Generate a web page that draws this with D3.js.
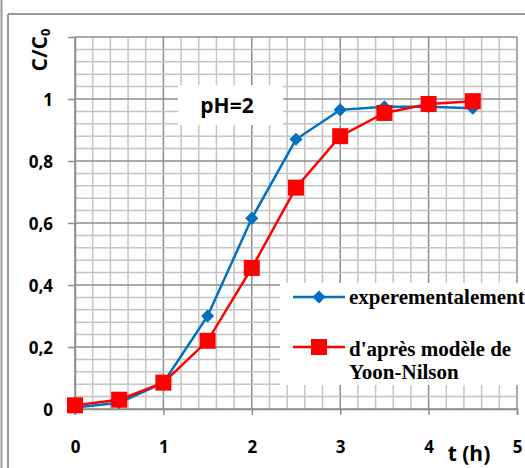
<!DOCTYPE html>
<html>
<head>
<meta charset="utf-8">
<script src="https://cdn.jsdelivr.net/npm/d3@7"></script>
<style>
  html, body { margin: 0; padding: 0; background: #fff; }
  svg { display: block; }
</style>
</head>
<body>
<svg id="chart" width="525" height="468"></svg>
<script>
// Breakthrough curve at pH = 2: measured C/C0 vs Yoon-Nilson model
const times = [0, 0.5, 1, 1.5, 2, 2.5, 3, 3.5, 4, 4.5];
const experimental = [0.005, 0.02, 0.085, 0.30, 0.615, 0.87, 0.965, 0.975, 0.975, 0.97];
const yoonNilson = [0.012, 0.03, 0.085, 0.22, 0.455, 0.714, 0.88, 0.955, 0.984, 0.993];
const xTicks = [0, 1, 2, 3, 4, 5];
const yTicks = [0, 0.2, 0.4, 0.6, 0.8, 1];
const yTickLabels = ["0", "0,2", "0,4", "0,6", "0,8", "1"];
const seriesNames = ["experementalement", "d'après modèle de", "Yoon-Nilson"];

const svg = d3.select("#chart");

const x = d3.scaleLinear().domain([0, 5]).range([75, 517]);
const y = d3.scaleLinear().domain([0, 1.2]).range([409, 37]);

// outer frame
const frame = svg.append("g").attr("stroke", "#999").attr("fill", "none");
frame.append("line").attr("x1", 1.5).attr("x2", 1.5).attr("y1", 0).attr("y2", 468).attr("stroke-width", 2);
frame.append("line").attr("x1", 8).attr("x2", 8).attr("y1", 14).attr("y2", 468).attr("stroke-width", 2);
frame.append("line").attr("x1", 8).attr("x2", 525).attr("y1", 14).attr("y2", 14).attr("stroke-width", 2);

// grid: minor lines every 0.2 h and 0.04, major lines on the ticks
const minorX = d3.range(0, 5.0001, 0.2);
const minorY = d3.range(0, 1.20001, 0.04);
const grid = svg.append("g");
grid.selectAll(".vx").data(minorX).join("line")
  .attr("x1", d => x(d)).attr("x2", d => x(d))
  .attr("y1", y(0)).attr("y2", y(1.2))
  .attr("stroke", d => Math.abs(d - Math.round(d)) < 1e-6 ? "#8c8c8c" : "#c4c4c4")
  .attr("stroke-width", 1.5);
grid.selectAll(".hy").data(minorY).join("line")
  .attr("x1", x(0)).attr("x2", x(5))
  .attr("y1", d => y(d)).attr("y2", d => y(d))
  .attr("stroke", d => Math.abs(d / 0.2 - Math.round(d / 0.2)) < 1e-6 ? "#8c8c8c" : "#c4c4c4")
  .attr("stroke-width", 1.5);

// axes
const tickFont = "'Open Sans', 'Liberation Sans', Arial, sans-serif";
const yAxis = svg.append("g").attr("transform", `translate(${x(0)},0)`)
  .call(d3.axisLeft(y).tickValues(yTicks).tickSize(7).tickFormat((d, i) => yTickLabels[i]));
const xAxis = svg.append("g").attr("transform", `translate(0,${y(0)})`)
  .call(d3.axisBottom(x).tickValues(xTicks).tickSize(6).tickFormat(d3.format("d")));
[yAxis, xAxis].forEach(a => {
  a.select(".domain").attr("stroke", "#8c8c8c").attr("stroke-width", 1.5);
  a.selectAll(".tick line").attr("stroke", "#8c8c8c").attr("stroke-width", 1.5);
  a.selectAll("text").attr("fill", "#000").style("font-family", tickFont)
    .style("font-weight", "bold").style("font-size", "17px");
});
yAxis.selectAll("text").attr("x", -22).attr("dy", "0.36em");
xAxis.selectAll("text").attr("y", 32);

// axis titles
const yTitle = svg.append("text")
  .attr("transform", "translate(47,50) rotate(-90)")
  .attr("text-anchor", "middle")
  .style("font-family", tickFont).style("font-weight", "bold").style("font-size", "21px");
yTitle.append("tspan").text("C/C");
yTitle.append("tspan").attr("dy", 3).style("font-size", "13px").text("0");

svg.append("text").attr("x", 469).attr("y", 461).attr("text-anchor", "middle")
  .style("font-family", tickFont).style("font-weight", "bold").style("font-size", "21px")
  .text("t (h)");

// pH annotation
svg.append("rect").attr("x", 178).attr("y", 85).attr("width", 105).attr("height", 40).attr("fill", "#fff");
svg.append("text").attr("x", 227).attr("y", 113).attr("text-anchor", "middle")
  .style("font-family", tickFont).style("font-weight", "bold").style("font-size", "21px")
  .text("pH=2");

// series
const line = d3.line().x(d => x(d[0])).y(d => y(d[1]));
const expPts = times.map((t, i) => [t, experimental[i]]);
const ynPts = times.map((t, i) => [t, yoonNilson[i]]);

svg.append("path").datum(expPts).attr("d", line)
  .attr("fill", "none").attr("stroke", "#0070c0").attr("stroke-width", 2.5);
svg.append("g").selectAll("path").data(expPts).join("path")
  .attr("d", d3.symbol(d3.symbolDiamond2, 110))
  .attr("transform", d => `translate(${x(d[0])},${y(d[1])})`)
  .attr("fill", "#0070c0");

svg.append("path").datum(ynPts).attr("d", line)
  .attr("fill", "none").attr("stroke", "#ff0000").attr("stroke-width", 2.5);
svg.append("g").selectAll("rect").data(ynPts).join("rect")
  .attr("x", d => x(d[0]) - 8).attr("y", d => y(d[1]) - 8)
  .attr("width", 16).attr("height", 16).attr("fill", "#ff0000");

// legend
const lg = svg.append("g");
lg.append("rect").attr("x", 280).attr("y", 283).attr("width", 245).attr("height", 102).attr("fill", "#fff");
const legendFont = "'Liberation Serif', 'Times New Roman', serif";
lg.append("line").attr("x1", 293).attr("x2", 345).attr("y1", 297).attr("y2", 297)
  .attr("stroke", "#0070c0").attr("stroke-width", 2.5);
lg.append("path").attr("d", d3.symbol(d3.symbolDiamond2, 110))
  .attr("transform", "translate(319,297)").attr("fill", "#0070c0");
lg.append("text").attr("x", 349).attr("y", 304)
  .style("font-family", legendFont).style("font-weight", "bold").style("font-size", "21px")
  .text(seriesNames[0]);
lg.append("line").attr("x1", 293).attr("x2", 345).attr("y1", 347).attr("y2", 347)
  .attr("stroke", "#ff0000").attr("stroke-width", 2.5);
lg.append("rect").attr("x", 311).attr("y", 339).attr("width", 16).attr("height", 16).attr("fill", "#ff0000");
lg.append("text").attr("x", 349).attr("y", 356)
  .style("font-family", legendFont).style("font-weight", "bold").style("font-size", "21px")
  .text(seriesNames[1]);
lg.append("text").attr("x", 349).attr("y", 379)
  .style("font-family", legendFont).style("font-weight", "bold").style("font-size", "21px")
  .text(seriesNames[2]);
</script>
</body>
</html>
